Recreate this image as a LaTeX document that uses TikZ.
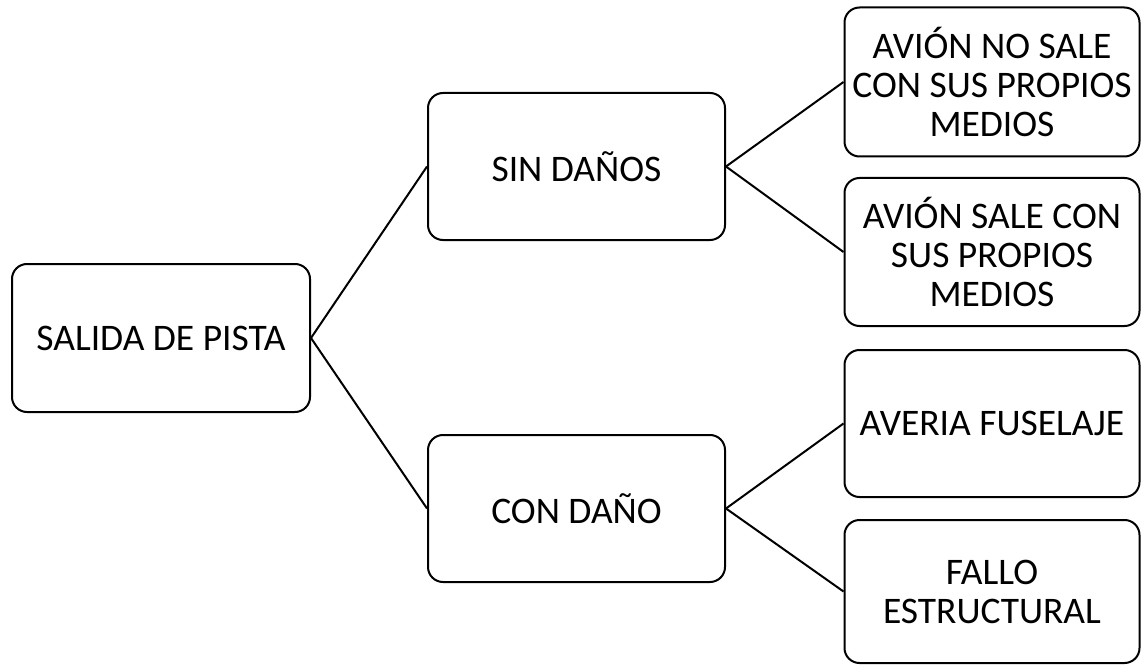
\documentclass[tikz,border=0pt]{standalone}
\usepackage{fontspec}
\setmainfont{Carlito}
\begin{document}
\begin{tikzpicture}[x=1pt,y=-1pt,
  box/.style={draw=black,line width=2pt,rounded corners=15pt,fill=white,
    minimum width=#1,align=center,inner sep=0pt,
    font=\fontsize{37.5}{39}\selectfont},
  box/.default=297pt,
  link/.style={line width=2pt}]
\useasboundingbox (0,0) rectangle (1141,666);
\node[box=298pt,minimum height=148pt] (root) at (161,338) {SALIDA DE PISTA};
\node[box,minimum height=147pt] (sin) at (576.5,166.5) {SIN DAÑOS};
\node[box,minimum height=147pt] (con) at (576.5,508.5) {CON DAÑO};
\node[box=295pt,minimum height=149pt] (l1) at (992,82) {AVIÓN NO SALE\\CON SUS PROPIOS\\MEDIOS};
\node[box=295pt,minimum height=148pt] (l2) at (992,252) {AVIÓN SALE CON\\SUS PROPIOS\\MEDIOS};
\node[box=295pt,minimum height=147pt] (l3) at (992,423.5) {AVERIA FUSELAJE};
\node[box=295pt,minimum height=143pt] (l4) at (992,591.5) {FALLO\\ESTRUCTURAL};
\draw[link] (root.east) -- (sin.west);
\draw[link] (root.east) -- (con.west);
\draw[link] (sin.east) -- (l1.west);
\draw[link] (sin.east) -- (l2.west);
\draw[link] (con.east) -- (l3.west);
\draw[link] (con.east) -- (l4.west);
\end{tikzpicture}
\end{document}
